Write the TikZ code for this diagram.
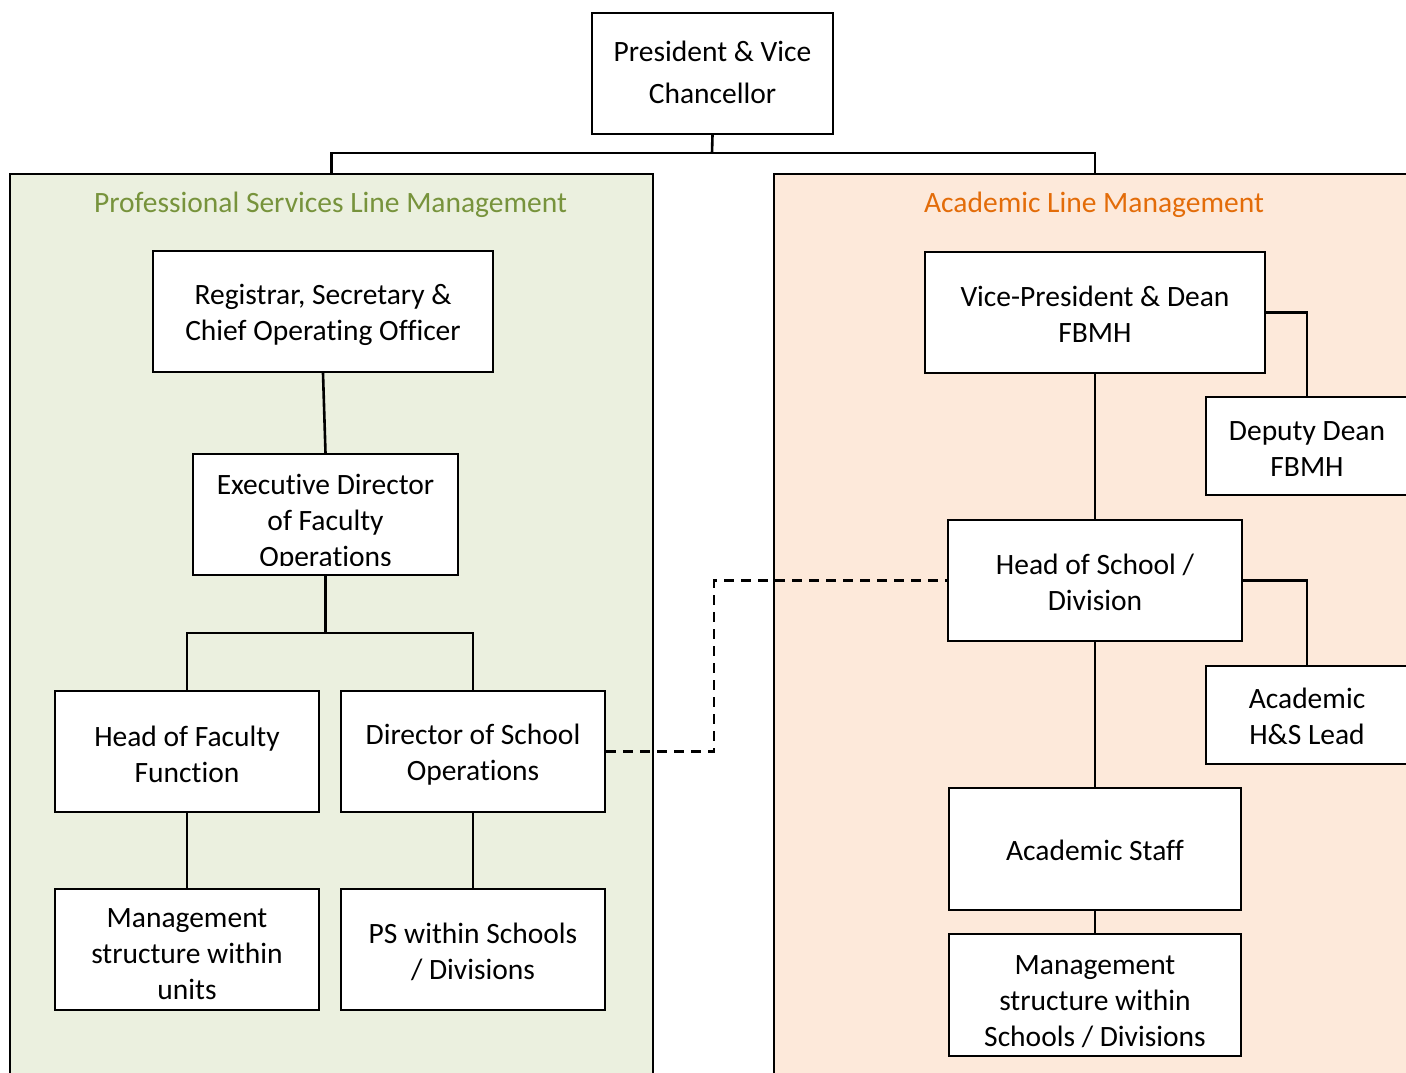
\documentclass[tikz,border=0pt]{standalone}
\usepackage{fontspec}
\setmainfont{Carlito}[Ligatures={NoCommon}]
\definecolor{psfill}{HTML}{EBF0DF}
\definecolor{pstext}{HTML}{77933C}
\definecolor{acfill}{HTML}{FDE9DA}
\definecolor{actext}{HTML}{E36C09}
\tikzset{
  box/.style={draw, line width=2pt, fill=white, inner sep=0pt},
  txt/.style={inner sep=0pt, align=center, font=\fontsize{29.5}{36}\selectfont},
  panel/.style={draw, line width=2pt, inner sep=0pt, anchor=north west},
  ptitle/.style={inner sep=0pt, font=\fontsize{29.5}{34}\selectfont},
  conn/.style={line width=2.6pt},
  dconn/.style={line width=2.6pt, dash pattern=on 10pt off 7pt}
}
\begin{document}
\begin{tikzpicture}[x=1pt,y=-1pt]
\useasboundingbox (0,0) rectangle (1406,1072);
\clip (0,0) rectangle (1406,1072);
\fill[white] (0,0) rectangle (1406,1072);
% panels
\node[panel, fill=psfill, minimum width=643pt, minimum height=920pt] (psp) at (9,173) {};
\node[panel, fill=acfill, minimum width=642pt, minimum height=920pt] (acp) at (773,173) {};
\node[ptitle, text=pstext] (pst) at (330.5,205) {Professional Services Line Management};
\node[ptitle, text=actext] (act) at (1094,205) {Academic Line Management};
% top
\node[box, minimum width=241pt, minimum height=121pt] (pres) at (712.5,73.5) {};
\node[txt, font=\fontsize{29.5}{42}\selectfont] (prest) at ([yshift=1pt]pres.center) {President \& Vice\\Chancellor};
\coordinate (bus) at (712,153);
\draw[conn] (psp.north) |- (bus) -| (acp.north);
\draw[conn] (pres.south) -- (bus);
% professional services
\node[box, minimum width=340pt, minimum height=121pt] (reg) at (323,311.5) {};
\node[txt] (regt) at ([yshift=-3pt]reg.center) {Registrar, Secretary \&\\Chief Operating Officer};
\node[box, minimum width=265pt, minimum height=121pt] (exec) at (325.5,514.5) {};
\begin{scope}
\clip (194,455) rectangle (457,565);
\node[txt] (exect) at (325.5,523) {Executive Director\\of Faculty\\Operations};
\end{scope}
\draw[conn] (reg.south) -- (exec.north);
\node[box, minimum width=264pt, minimum height=121pt] (hof) at (187,751.5) {};
\node[txt] (hoft) at ([yshift=-3pt]hof.center) {Head of Faculty\\Function};
\node[box, minimum width=264pt, minimum height=121pt] (dso) at (473,751.5) {};
\node[txt] (dsot) at ([yshift=-3pt]dso.center) {Director of School\\Operations};
\coordinate (psbus) at (325.5,633);
\draw[conn] (exec.south) -- (psbus);
\draw[conn] (hof.north) |- (psbus) -| (dso.north);
\node[box, minimum width=264pt, minimum height=121pt] (mu) at (187,949.5) {};
\node[txt] (mut) at ([yshift=-5pt]mu.center) {Management\\structure within\\units};
\node[box, minimum width=264pt, minimum height=121pt] (psw) at (473,949.5) {};
\node[txt] (pswt) at ([yshift=-2pt]psw.center) {PS within Schools\\/ Divisions};
\draw[conn] (hof.south) -- (mu.north);
\draw[conn] (dso.south) -- (psw.north);
% academic
\node[box, minimum width=340pt, minimum height=121pt] (vp) at (1095,312.5) {};
\node[txt] (vpt) at ([yshift=-2pt]vp.center) {Vice-President \& Dean\\FBMH};
\node[box, minimum width=202pt, minimum height=98pt] (dep) at (1307,446) {};
\node[txt] (dept) at ([yshift=-3pt]dep.center) {Deputy Dean\\FBMH};
\node[box, minimum width=294pt, minimum height=121pt] (hos) at (1095,580.5) {};
\node[txt] (host) at ([yshift=-2pt]hos.center) {Head of School /\\Division};
\node[box, minimum width=202pt, minimum height=98pt] (hsl) at (1307,715) {};
\node[txt] (hslt) at ([yshift=-1pt]hsl.center) {Academic\\H\&S Lead};
\node[box, minimum width=292pt, minimum height=122pt] (as) at (1095,849) {};
\node[txt] (ast) at ([yshift=-1pt]as.center) {Academic Staff};
\node[box, minimum width=292pt, minimum height=122pt] (ms) at (1095,995) {};
\node[txt] (mst) at ([yshift=-7pt]ms.center) {Management\\structure within\\Schools / Divisions};
\draw[conn] (vp.east) -| (dep.north);
\draw[conn] (vp.south) -- (hos.north);
\draw[conn] (hos.east) -| (hsl.north);
\draw[conn] (hos.south) -- (as.north);
\draw[conn] (as.south) -- (ms.north);
% dashed link
\coordinate (dk) at (714,665);
\draw[dconn] (dso.east) -| (dk) |- (hos.west);
\end{tikzpicture}
\end{document}
